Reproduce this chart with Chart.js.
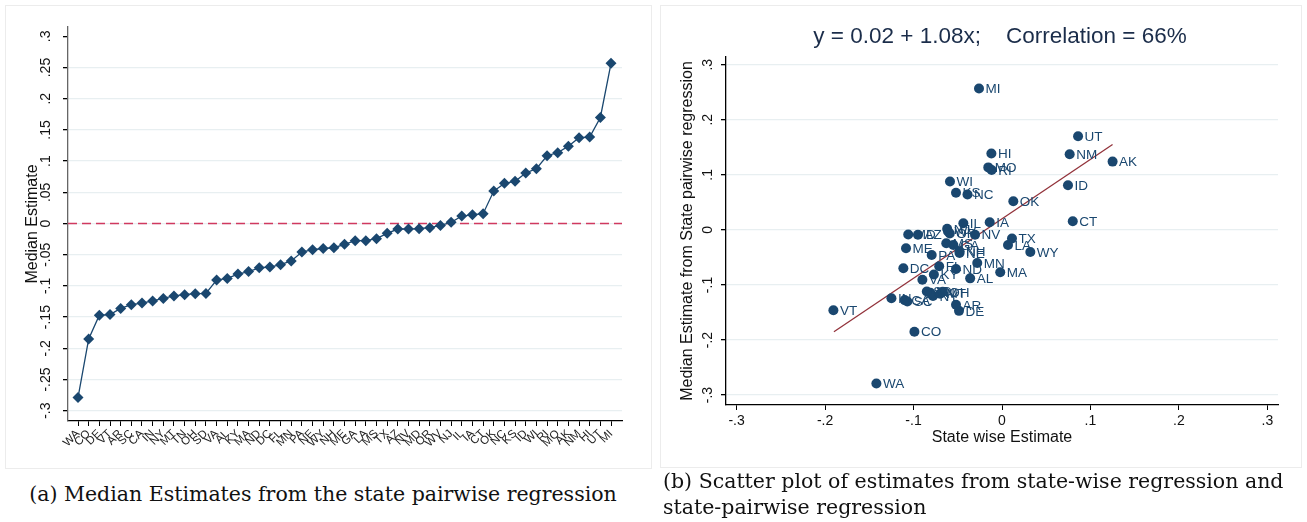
<!DOCTYPE html>
<html>
<head>
<meta charset="utf-8">
<script src="https://cdn.jsdelivr.net/npm/chart.js@4.4.1/dist/chart.umd.min.js"></script>
<style>
  html, body { margin:0; padding:0; background:#fff; }
  body { width:1307px; height:522px; position:relative; overflow:hidden; }
  canvas { position:absolute; }
  .frame { position:absolute; border:1px solid #ececec; box-sizing:border-box; }
  .cap { position:absolute; font-family:"DejaVu Serif", serif; font-size:20.5px; color:#111; white-space:nowrap; }
</style>
</head>
<body>
<div class="frame" style="left:5px;top:5px;width:647px;height:464px;"></div>
<div class="frame" style="left:660px;top:5px;width:642px;height:463px;"></div>
<canvas id="left" width="655" height="470" style="left:0;top:0;"></canvas>
<canvas id="right" width="647" height="470" style="left:660px;top:0;"></canvas>
<div class="cap" style="left:0;width:646px;top:482px;text-align:center;">(a) Median Estimates from the state pairwise regression</div>
<div class="cap" style="left:663px;top:469px;">(b) Scatter plot of estimates from state-wise regression and</div>
<div class="cap" style="left:663px;top:495px;">state-pairwise regression</div>
<script>
// ---- data ----
const states = ["WA","CO","DE","VT","AR","SC","CA","IN","NY","MT","TN","OH","SD","VA","AL","KY","MA","ND","DC","FL","MN","PA","NE","WY","NH","ME","GA","LA","MS","TX","AZ","NV","MD","OR","WV","NJ","IL","IA","CT","OK","NC","KS","ID","WI","RI","MO","AK","NM","HI","UT","MI"];
const medianEst = [-0.279,-0.185,-0.147,-0.146,-0.136,-0.130,-0.1275,-0.124,-0.120,-0.116,-0.114,-0.1125,-0.112,-0.0905,-0.088,-0.081,-0.077,-0.071,-0.0697,-0.066,-0.060,-0.0457,-0.042,-0.040,-0.0388,-0.0334,-0.0275,-0.0275,-0.0243,-0.0157,-0.0088,-0.0088,-0.0083,-0.0067,-0.003,0.002,0.012,0.014,0.0157,0.052,0.0644,0.0676,0.081,0.088,0.1087,0.1135,0.124,0.1375,0.1386,0.170,0.2567];
const stateWiseEst = [-0.142,-0.099,-0.0486,-0.1906,-0.052,-0.107,-0.110,-0.125,-0.078,-0.070,-0.081,-0.067,-0.085,-0.090,-0.036,-0.077,-0.002,-0.052,-0.1115,-0.071,-0.028,-0.0795,-0.048,0.032,-0.048,-0.1085,-0.055,0.0068,-0.063,0.0113,-0.095,-0.0305,-0.106,-0.059,-0.061,-0.062,-0.0437,-0.0139,0.080,0.0128,-0.039,-0.052,0.0746,-0.0588,-0.0117,-0.0155,0.125,0.0765,-0.012,0.086,-0.026];
const fitX = [-0.19, 0.125];
const fitY = [-0.185, 0.155];
const leftYTicks = [-0.3,-0.25,-0.2,-0.15,-0.1,-0.05,0,0.05,0.1,0.15,0.2,0.25,0.3];
const rightTicks = [-0.3,-0.2,-0.1,0,0.1,0.2,0.3];
const leftTitle = "Median Estimate";
const rightTitle = "y = 0.02 + 1.08x;    Correlation = 66%";
const rightYTitle = "Median Estimate from State pairwise regression";
const rightXTitle = "State wise Estimate";

const NAVY = '#1a476f';
const SANS = '"Liberation Sans", Arial, sans-serif';
function fmt(v){
  const r = Math.round(v*100)/100;
  if (r === 0) return '0';
  let s = String(Math.abs(r)).replace(/^0/, '');
  return (r < 0 ? '-' : '') + s;
}

const textPlugin = {
  id: 'textPlugin',
  afterDraw(chart, args, opts) {
    const ctx = chart.ctx;
    const y = chart.scales.y;
    ctx.save();
    ctx.fillStyle = '#111';
    ctx.font = '14px ' + SANS;
    y.ticks.forEach(t => {
      const py = y.getPixelForValue(t.value);
      ctx.save();
      ctx.translate(opts.tickX, py);
      ctx.rotate(-Math.PI/2);
      ctx.textAlign = 'center';
      ctx.textBaseline = 'middle';
      ctx.fillText(fmt(t.value), 0, 0);
      ctx.restore();
    });
    ctx.font = opts.yTitleSize + 'px ' + SANS;
    ctx.save();
    ctx.translate(opts.titleX, (chart.chartArea.top + chart.chartArea.bottom)/2);
    ctx.rotate(-Math.PI/2);
    ctx.textAlign = 'center';
    ctx.textBaseline = 'middle';
    ctx.fillText(opts.yTitle, 0, 0);
    ctx.restore();
    if (opts.xTitle) {
      ctx.font = '16px ' + SANS;
      ctx.textAlign = 'center'; ctx.textBaseline = 'middle';
      ctx.fillText(opts.xTitle, (chart.chartArea.left + chart.chartArea.right)/2, opts.xTitleY);
    }
    if (opts.title) {
      ctx.font = '22.5px ' + SANS;
      ctx.fillStyle = '#1b2d4a';
      ctx.textAlign = 'center'; ctx.textBaseline = 'middle';
      ctx.fillText(opts.title, opts.titleCX, opts.titleY);
    }
    ctx.restore();
  }
};

const refLine = {
  id: 'refLine',
  beforeDatasetsDraw(chart, args, opts) {
    if (!opts.show) return;
    const ctx = chart.ctx, a = chart.chartArea;
    const py = chart.scales.y.getPixelForValue(0);
    ctx.save();
    ctx.strokeStyle = '#d0395f';
    ctx.lineWidth = 1.6;
    ctx.setLineDash([9,5]);
    ctx.beginPath(); ctx.moveTo(a.left, py); ctx.lineTo(a.right, py); ctx.stroke();
    ctx.restore();
  }
};

const pointLabels = {
  id: 'pointLabels',
  afterDatasetsDraw(chart, args, opts) {
    if (!opts.show) return;
    const ctx = chart.ctx;
    const meta = chart.getDatasetMeta(0);
    ctx.save();
    ctx.font = '13.5px ' + SANS;
    ctx.fillStyle = NAVY;
    ctx.textAlign = 'left'; ctx.textBaseline = 'middle';
    meta.data.forEach((el, i) => ctx.fillText(states[i], el.x + 6.5, el.y + 1));
    ctx.restore();
  }
};

Chart.register(textPlugin, refLine, pointLabels);

new Chart(document.getElementById('left'), {
  type: 'line',
  data: {
    datasets: [{
      data: states.map((s,i) => ({x:i, y:medianEst[i]})),
      borderColor: NAVY, backgroundColor: NAVY,
      borderWidth: 1.3, pointStyle: 'rectRot', pointRadius: 5.5,
      pointBorderWidth: 0, tension: 0
    }]
  },
  options: {
    responsive: false, animation: false, devicePixelRatio: 1,
    layout: { padding: { top: 27, right: 33, left: 0, bottom: 0 } },
    plugins: {
      legend: { display: false }, tooltip: { enabled: false },
      textPlugin: { tickX: 46, titleX: 33, yTitle: leftTitle, yTitleSize: 16 },
      refLine: { show: true }, pointLabels: { show: false }
    },
    scales: {
      x: {
        type: 'linear', min: -0.94, max: 51.03,
        afterBuildTicks: s => { s.ticks = states.map((st,i) => ({value:i})); },
        afterFit: s => { s.height = 49; },
        ticks: { callback: v => states[v] ?? '', minRotation: 45, maxRotation: 45, autoSkip: false,
                 font: { size: 11.5, family: SANS }, color: '#222', padding: 1 },
        grid: { drawOnChartArea: false, drawTicks: true, tickLength: 5, tickColor: '#000', lineWidth: 1 },
        border: { color: '#000', width: 1.3 }
      },
      y: {
        min: -0.3165, max: 0.315,
        afterBuildTicks: s => { s.ticks = leftYTicks.map(v => ({value:v})); },
        afterFit: s => { s.width = 68; },
        ticks: { display: false },
        grid: { color: c => (c.tick && Math.abs(c.tick.value - 0.3) < 1e-9) ? 'rgba(0,0,0,0)' : '#e8eff1',
                lineWidth: 1.3, drawTicks: true, tickLength: 5, tickColor: '#000' },
        border: { color: '#666', width: 1.3 }
      }
    }
  }
});

new Chart(document.getElementById('right'), {
  type: 'scatter',
  data: {
    datasets: [{
      data: states.map((s,i) => ({x:stateWiseEst[i], y:medianEst[i]})),
      backgroundColor: NAVY, borderWidth: 0, pointRadius: 5
    }, {
      type: 'line',
      data: fitX.map((x,i) => ({x:x, y:fitY[i]})),
      borderColor: '#92323a', borderWidth: 1.3, pointRadius: 0, showLine: true
    }]
  },
  options: {
    responsive: false, animation: false, devicePixelRatio: 1,
    layout: { padding: { top: 57, right: 29, left: 0, bottom: 0 } },
    plugins: {
      legend: { display: false }, tooltip: { enabled: false },
      textPlugin: { tickX: 48, titleX: 28, yTitle: rightYTitle, yTitleSize: 16, xTitle: rightXTitle, xTitleY: 438,
                    title: rightTitle, titleCX: 340, titleY: 37 },
      refLine: { show: false }, pointLabels: { show: true }
    },
    scales: {
      x: {
        type: 'linear', min: -0.312, max: 0.312,
        afterBuildTicks: s => { s.ticks = rightTicks.map(v => ({value:v})); },
        afterFit: s => { s.height = 65; },
        ticks: { callback: v => fmt(v), font: { size: 14, family: SANS }, color: '#111', padding: 3 },
        grid: { drawOnChartArea: false, drawTicks: true, tickLength: 5, tickColor: '#000' },
        border: { color: '#000', width: 1.3 }
      },
      y: {
        min: -0.318, max: 0.314,
        afterBuildTicks: s => { s.ticks = rightTicks.map(v => ({value:v})); },
        afterFit: s => { s.width = 66; },
        ticks: { display: false },
        grid: { color: '#e8eff1', lineWidth: 1.3, drawTicks: true, tickLength: 5, tickColor: '#000' },
        border: { color: '#000', width: 1.3 }
      }
    }
  }
});
</script>
</body>
</html>
